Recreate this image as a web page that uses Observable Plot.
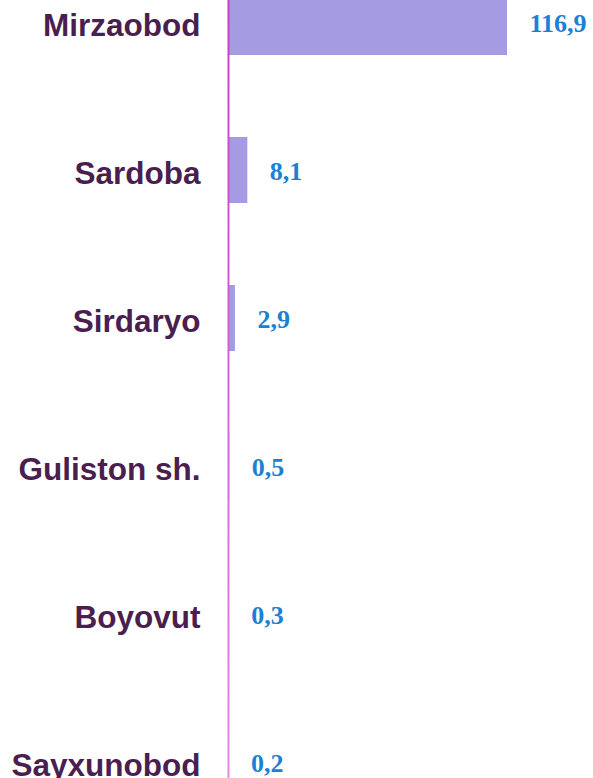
<!DOCTYPE html>
<html>
<head>
<meta charset="utf-8">
<script src="https://cdn.jsdelivr.net/npm/d3@7"></script>
<script src="https://cdn.jsdelivr.net/npm/@observablehq/plot@0.6"></script>
<style>
  html, body { margin: 0; padding: 0; background: #fff; overflow: hidden; }
  #chart svg { display: block; }
</style>
</head>
<body>
<div id="chart"></div>
<script>
const districts = ["Mirzaobod", "Sardoba", "Sirdaryo", "Guliston sh.", "Boyovut", "Sayxunobod"];
const values = [116.9, 8.1, 2.9, 0.5, 0.3, 0.2];
const valueLabels = ["116,9", "8,1", "2,9", "0,5", "0,3", "0,2"];

const data = districts.map((d, i) => ({district: d, value: values[i], label: valueLabels[i]}));

const W = 593, H = 778;
const chart = Plot.plot({
  width: W,
  height: H,
  marginLeft: 228,
  marginRight: 86,
  marginTop: 0,
  marginBottom: 0,
  style: {background: "#fff"},
  x: {domain: [0, 116.9], axis: null},
  y: {type: "band", domain: districts, range: [-93, 877], paddingInner: 0.554, paddingOuter: 0.554, axis: null},
  marks: [
    Plot.barX(data, {x: "value", y: "district", fill: "#a59be3"}),
    Plot.ruleX([0], {stroke: "url(#lineGrad)", strokeWidth: 2}),
    Plot.text(data, {
      x: 0, y: "district", text: "district", textAnchor: "end", dx: -28, dy: 3,
      fill: "#4a1f4f", fontSize: 31.5, fontWeight: "bold",
      fontFamily: "'Liberation Sans', Arial, sans-serif"
    }),
    Plot.text(data, {
      x: "value", y: "district", text: "label", textAnchor: "start", dx: 22, dy: 1,
      fill: "#1c80d4", fontSize: 26, fontWeight: "bold",
      fontFamily: "'Liberation Serif', 'Times New Roman', serif"
    })
  ]
});

const ns = "http://www.w3.org/2000/svg";
const defs = document.createElementNS(ns, "defs");
const grad = document.createElementNS(ns, "linearGradient");
grad.setAttribute("id", "lineGrad");
grad.setAttribute("gradientUnits", "userSpaceOnUse");
grad.setAttribute("x1", "0"); grad.setAttribute("y1", "0");
grad.setAttribute("x2", "0"); grad.setAttribute("y2", String(H));
[["0", "#c83cc8"], ["1", "#e08ce0"]].forEach(([o, c]) => {
  const s = document.createElementNS(ns, "stop");
  s.setAttribute("offset", o); s.setAttribute("stop-color", c);
  grad.appendChild(s);
});
defs.appendChild(grad);
chart.insertBefore(defs, chart.firstChild);

document.getElementById("chart").appendChild(chart);
</script>
</body>
</html>
